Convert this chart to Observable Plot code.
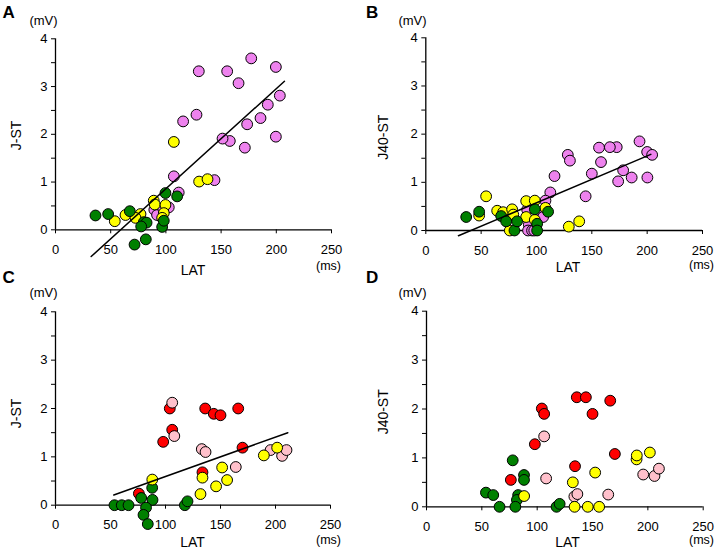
<!DOCTYPE html>
<html>
<head>
<meta charset="utf-8">
<script src="https://cdn.jsdelivr.net/npm/d3@7"></script>
<script src="https://cdn.jsdelivr.net/npm/@observablehq/plot@0.6"></script>
<style>
  body { margin: 0; background: #fff; }
  #chart { position: relative; width: 725px; height: 557px; font-family: "Liberation Sans", Arial, sans-serif; }
  #chart svg { position: absolute; overflow: visible; }
</style>
</head>
<body>
<div id="chart"></div>
<script>
// ---- axis ticks ----
const xTicks = [0, 50, 100, 150, 200, 250];
const yTicks = [0, 0.5, 1, 1.5, 2, 2.5, 3, 3.5, 4];
const yLabelTicks = [0, 1, 2, 3, 4];

// ---- Panel A: J-ST vs LAT  [LAT (ms), J-ST (mV)] ----
const A_violet = [[129.8,3.32],[155.5,3.32],[165.8,3.07],[177.3,3.59],[199.6,3.41],[203.2,2.81],[192.3,2.62],[185.7,2.34],[173.6,2.21],[199.6,1.95],[171.5,1.72],[157.9,1.86],[151.3,1.91],[127.7,2.41],[115.6,2.27],[144,1.04],[107.2,1.12],[111.6,0.78],[102.6,0.47],[89.5,0.42],[92,0.31],[97.5,0.45]];
const A_yellow = [[107.2,1.84],[130.1,1.01],[137.7,1.06],[89,0.61],[89.9,0.53],[99.6,0.52],[98.1,0.35],[96.6,0.25],[77,0.33],[63.4,0.31],[53.7,0.18],[72.5,0.25]];
const A_green  = [[36.2,0.30],[47.7,0.33],[67.3,0.39],[99.6,0.77],[110.2,0.70],[80,0.16],[82.5,0.15],[77.6,0.07],[96.6,0.06],[98.1,0.19],[71.6,-0.31],[81.8,-0.20]];
const A_fit    = [[32.3,-0.56],[207.4,3.11]];

// ---- Panel B: J40-ST vs LAT ----
const B_violet = [[193.1,1.85],[200,1.63],[204.5,1.57],[172.5,1.73],[166.3,1.73],[156.5,1.72],[158.3,1.42],[128.3,1.57],[130.2,1.45],[116.3,1.13],[150,1.18],[178.3,1.25],[173.8,1.02],[186,1.10],[200.2,1.10],[144.4,0.71],[112.5,0.79],[108.1,0.62],[103.3,0.31],[91.6,0.43],[93.1,0.12],[92.4,0.0],[96,0.0],[106,0.28],[98,0.0]];
const B_yellow = [[54.5,0.71],[48.2,0.31],[64.5,0.41],[69.9,0.38],[78,0.44],[79,0.33],[75.9,0.0],[90.7,0.61],[90.7,0.28],[98.5,0.62],[98.5,0.22],[108.1,0.47],[129.2,0.08],[138.6,0.19]];
const B_green  = [[36.5,0.28],[48.2,0.39],[68.1,0.30],[72.6,0.19],[80.1,0.0],[82.5,0.19],[98.5,0.44],[100.6,0.14],[100.6,0.0],[110.5,0.39]];
const B_fit    = [[29.5,-0.11],[203.3,1.58]];

// ---- Panel C: J-ST vs LAT ----
const C_red    = [[103.9,2.0],[106.1,1.56],[97.9,1.31],[136.1,2.0],[143.9,1.89],[150,1.86],[166.1,2.0],[170,1.19],[133.6,0.68],[75.8,0.24]];
const C_pink   = [[106.1,2.12],[108,1.43],[133,1.16],[136.4,1.10],[163.9,0.79],[195.5,1.14],[206,1.02],[210,1.14]];
const C_green  = [[53.6,0],[60.2,0],[66.4,0],[77.9,0.15],[87.9,0.36],[88.2,0.11],[82.3,-0.05],[80,-0.20],[83.9,-0.39],[117.6,0],[120,0.08]];
const C_yellow = [[88,0.53],[133.6,0.57],[151.5,0.78],[156,0.52],[146,0.39],[131.8,0.23],[189.4,1.03],[201.5,1.19]];
const C_fit    = [[53,0.21],[211.2,1.50]];

// ---- Panel D: J40-ST vs LAT ----
const D_red    = [[104.2,2.01],[106.3,1.90],[97.9,1.28],[135.8,2.24],[144,2.24],[150,1.90],[166,2.17],[170.2,1.08],[134.2,0.83],[76.2,0.55]];
const D_pink   = [[106.3,1.44],[108.1,0.58],[133.6,0.21],[136.3,0.26],[164.2,0.25],[195.8,0.66],[206,0.63],[210,0.78]];
const D_green  = [[53.7,0.29],[60.3,0.24],[66,0],[77.9,0.95],[88.1,0.65],[88.1,0.55],[82.8,0.24],[81.7,0.14],[80.3,0],[117.5,0],[120.3,0.06]];
const D_yellow = [[88.2,0.22],[132.2,0.50],[152.4,0.70],[133.8,0],[145.7,0],[156,0],[189.8,0.97],[190,1.05],[201.8,1.11]];

const seriesNames  = ["violet", "yellow", "green", "red", "pink"];
const seriesColors = ["#e050e0", "#ffff00", "#0a7d0a", "#ff0000", "#ee88dc"];

const panels = [
  { letter: "A", ylabel: "J-ST",   series: [["violet", A_violet], ["yellow", A_yellow], ["green", A_green]], fit: A_fit,
    pos: [0, 0], size: [362, 278], margin: {top: 38.3, right: 31, bottom: 48.7, left: 55},
    lab: {letter: [2, 17], mv: [43, 24.5], y: [20, 135], lat: [192.5, 274], ms: [328, 269]} },
  { letter: "B", ylabel: "J40-ST", series: [["violet", B_violet], ["yellow", B_yellow], ["green", B_green]], fit: B_fit,
    pos: [362, 0], size: [363, 278], margin: {top: 37.3, right: 23, bottom: 48, left: 63.3},
    lab: {letter: [3.5, 17], mv: [50, 24.5], y: [25, 136.7], lat: [205.5, 271.5], ms: [339, 268]} },
  { letter: "C", ylabel: "J-ST",   series: [["red", C_red], ["pink", C_pink], ["green", C_green], ["yellow", C_yellow]], fit: C_fit,
    pos: [0, 262], size: [362, 295], margin: {top: 49.3, right: 32, bottom: 52.3, left: 55},
    lab: {letter: [2, 20], mv: [43, 34], y: [20, 151], lat: [192, 284.3], ms: [328, 281.5]} },
  { letter: "D", ylabel: "J40-ST", series: [["red", D_red], ["pink", D_pink], ["green", D_green], ["yellow", D_yellow]], fit: null,
    pos: [362, 262], size: [363, 295], margin: {top: 48.7, right: 22.3, bottom: 50.7, left: 64},
    lab: {letter: [3.5, 20], mv: [50, 34], y: [25, 149.3], lat: [205, 284.3], ms: [339, 281]} }
];

const chart = document.getElementById("chart");

for (const p of panels) {
  const m = p.margin;
  const at = ([x, y]) => ({frameAnchor: "top-left", dx: x - m.left, dy: y - m.top});
  const data = p.series.flatMap(([name, pts]) => pts.map(([lat, st]) => ({lat, st, name})));
  const marks = [
    Plot.ruleY([yTicks[0]], {x1: xTicks[0], x2: xTicks[xTicks.length - 1], stroke: "black", strokeWidth: 1.3}),
    Plot.ruleX([xTicks[0]], {y1: yTicks[0], y2: yTicks[yTicks.length - 1], stroke: "black", strokeWidth: 1.3}),
    Plot.axisX({ticks: xTicks, tickSize: 4, tickPadding: 11, fontSize: 13, label: null, stroke: "black", strokeWidth: 1}),
    Plot.axisY({ticks: yTicks, tickSize: 4, tickPadding: 4, fontSize: 13, label: null, stroke: "black", strokeWidth: 1,
                tickFormat: d => yLabelTicks.includes(d) ? String(d) : ""}),
    Plot.dot(data, {x: "lat", y: "st", fill: "name", r: 5.4, stroke: "black", strokeWidth: 1})
  ];
  if (p.fit) marks.push(Plot.line(p.fit, {x: d => d[0], y: d => d[1], stroke: "black", strokeWidth: 1.5}));
  marks.push(
    Plot.text([p.letter], {...at(p.lab.letter), textAnchor: "start", lineAnchor: "bottom", fontSize: 17, fontWeight: "bold"}),
    Plot.text(["(mV)"], {...at(p.lab.mv), textAnchor: "middle", lineAnchor: "bottom", fontSize: 13}),
    Plot.text([p.ylabel], {...at(p.lab.y), textAnchor: "middle", lineAnchor: "bottom", rotate: -90, fontSize: 14}),
    Plot.text(["LAT"], {...at(p.lab.lat), textAnchor: "middle", lineAnchor: "bottom", fontSize: 14}),
    Plot.text(["(ms)"], {...at(p.lab.ms), textAnchor: "middle", lineAnchor: "bottom", fontSize: 12.5})
  );
  const svg = Plot.plot({
    width: p.size[0], height: p.size[1],
    marginTop: m.top, marginRight: m.right, marginBottom: m.bottom, marginLeft: m.left,
    x: {domain: [xTicks[0], xTicks[xTicks.length - 1]]},
    y: {domain: [yTicks[0], yTicks[yTicks.length - 1]]},
    color: {domain: seriesNames, range: seriesColors},
    style: {fontFamily: "'Liberation Sans', Arial, sans-serif", color: "black", background: "transparent", overflow: "visible"},
    marks
  });
  svg.style.left = p.pos[0] + "px";
  svg.style.top = p.pos[1] + "px";
  chart.appendChild(svg);
}
</script>
</body>
</html>
